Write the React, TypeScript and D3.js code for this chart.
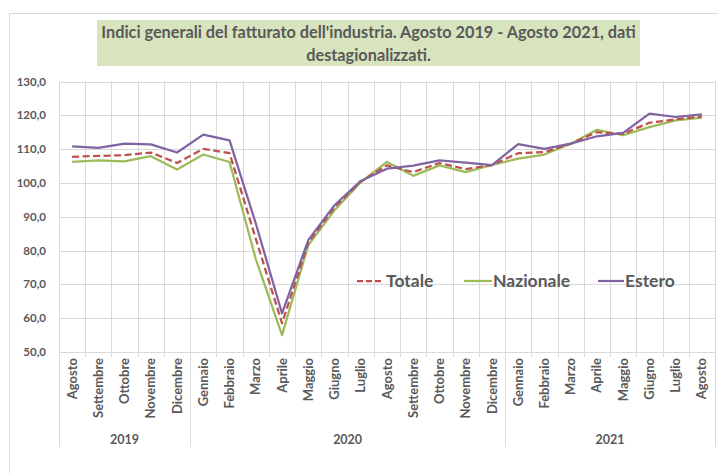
import React from 'react';
import * as d3 from 'd3';

const months = [
  'Agosto', 'Settembre', 'Ottobre', 'Novembre', 'Dicembre',
  'Gennaio', 'Febbraio', 'Marzo', 'Aprile', 'Maggio', 'Giugno', 'Luglio',
  'Agosto', 'Settembre', 'Ottobre', 'Novembre', 'Dicembre',
  'Gennaio', 'Febbraio', 'Marzo', 'Aprile', 'Maggio', 'Giugno', 'Luglio', 'Agosto',
];
const years = [
  { label: '2019', count: 5 },
  { label: '2020', count: 12 },
  { label: '2021', count: 8 },
];
const totale = [107.7, 108.0, 108.2, 109.0, 105.9, 110.1, 108.8, 83.5, 58.5, 82.3, 92.8, 100.4, 105.2, 103.2, 105.9, 104.1, 105.3, 108.8, 109.1, 111.6, 115.0, 114.5, 117.8, 118.8, 119.7];
const nazionale = [106.2, 106.7, 106.4, 107.9, 104.0, 108.4, 106.2, 77.5, 55.0, 81.6, 91.9, 100.2, 106.2, 102.1, 105.2, 103.2, 105.3, 107.2, 108.4, 111.6, 115.7, 114.1, 116.5, 118.5, 119.3];
const estero = [110.8, 110.4, 111.6, 111.4, 109.0, 114.3, 112.6, 88.0, 61.4, 83.1, 93.4, 100.6, 104.2, 105.1, 106.7, 106.0, 105.3, 111.5, 110.1, 111.6, 113.8, 114.8, 120.5, 119.5, 120.3];
const yTicks = [50, 60, 70, 80, 90, 100, 110, 120, 130];

const font = 'Lato, "Liberation Sans", sans-serif';
const textColor = '#595959';
const grid = '#d9d9d9';

const series = [
  { name: 'Totale', values: totale, color: '#C0504D', dash: '7,3.5' },
  { name: 'Nazionale', values: nazionale, color: '#9BBB59', dash: null },
  { name: 'Estero', values: estero, color: '#8064A2', dash: null },
];

export default function App() {
  const left = 59;
  const right = 715;
  const top = 81.5;
  const bottom = 352;

  const x = d3.scaleBand<number>().domain(d3.range(months.length)).range([left, right]).padding(0);
  const y = d3.scaleLinear().domain([50, 130]).range([bottom, top]);
  const cx = (i: number) => (x(i) as number) + x.bandwidth() / 2;

  const line = d3
    .line<number>()
    .x((_, i) => cx(i))
    .y(d => y(d));

  // category boundaries
  const bounds = d3.range(months.length + 1).map(i => left + i * x.bandwidth());
  let acc = 0;
  const yearBounds = [0];
  years.forEach(yr => {
    acc += yr.count;
    yearBounds.push(acc);
  });

  const legendItems = [
    { s: series[0], x0: 357, x1: 382, tx: 386 },
    { s: series[1], x0: 464, x1: 492, tx: 493 },
    { s: series[2], x0: 598, x1: 624, tx: 625 },
  ];

  return (
    <svg
      width={718}
      height={473}
      style={{ position: 'absolute', left: 0, top: 0, background: '#fff' }}
      fontFamily={font}
    >
      <rect x={9.5} y={13.5} width={720} height={470} fill="#fff" stroke={grid} />

      {/* title */}
      <rect x={97} y={20} width={543} height={46} fill="#D7E4BD" />
      <text x={368.5} y={38} textAnchor="middle" fontSize={16.3} fontWeight="bold" fill={textColor}>
        Indici generali del fatturato dell'industria. Agosto 2019 - Agosto 2021, dati
      </text>
      <text x={368.5} y={61} textAnchor="middle" fontSize={16.3} fontWeight="bold" fill={textColor}>
        destagionalizzati.
      </text>

      {/* horizontal gridlines */}
      {yTicks.map(t => (
        <line key={t} x1={left} x2={right} y1={Math.round(y(t)) + 0.5} y2={Math.round(y(t)) + 0.5} stroke={grid} />
      ))}
      {/* vertical gridlines and ticks */}
      {bounds.map((bx, i) => {
        const isYear = yearBounds.includes(i);
        return (
          <line
            key={i}
            x1={Math.round(bx) + 0.5}
            x2={Math.round(bx) + 0.5}
            y1={top}
            y2={isYear ? 447 : 357}
            stroke={grid}
          />
        );
      })}

      {/* y labels */}
      {yTicks.map(t => (
        <text key={t} x={46} y={y(t)} dy="0.35em" textAnchor="end" fontSize={11.5} fontWeight="bold" fill={textColor}>
          {d3.format('.1f')(t).replace('.', ',')}
        </text>
      ))}

      {/* month labels */}
      {months.map((m, i) => (
        <text
          key={i}
          transform={`translate(${cx(i)},358) rotate(-90)`}
          textAnchor="end"
          dy="0.35em"
          fontSize={13}
          fontWeight="bold"
          fill={textColor}
        >
          {m}
        </text>
      ))}

      {/* year labels */}
      {years.map((yr, k) => {
        const a = bounds[yearBounds[k]];
        const b = bounds[yearBounds[k + 1]];
        return (
          <text key={yr.label} x={(a + b) / 2} y={444} textAnchor="middle" fontSize={12.5} fontWeight="bold" fill={textColor}>
            {yr.label}
          </text>
        );
      })}

      {/* series */}
      {[series[1], series[0], series[2]].map(s => (
        <path
          key={s.name}
          d={line(s.values) || ''}
          fill="none"
          stroke={s.color}
          strokeWidth={2.25}
          strokeDasharray={s.dash || undefined}
          strokeLinejoin="round"
        />
      ))}

      {/* legend */}
      {legendItems.map(({ s, x0, x1, tx }) => (
        <g key={s.name}>
          <line x1={x0} x2={x1} y1={281} y2={281} stroke={s.color} strokeWidth={2.25} strokeDasharray={s.dash ? '6,3' : undefined} />
          <text x={tx} y={281} dy="0.35em" fontSize={17.5} fontWeight="bold" fill={textColor}>
            {s.name}
          </text>
        </g>
      ))}
    </svg>
  );
}
